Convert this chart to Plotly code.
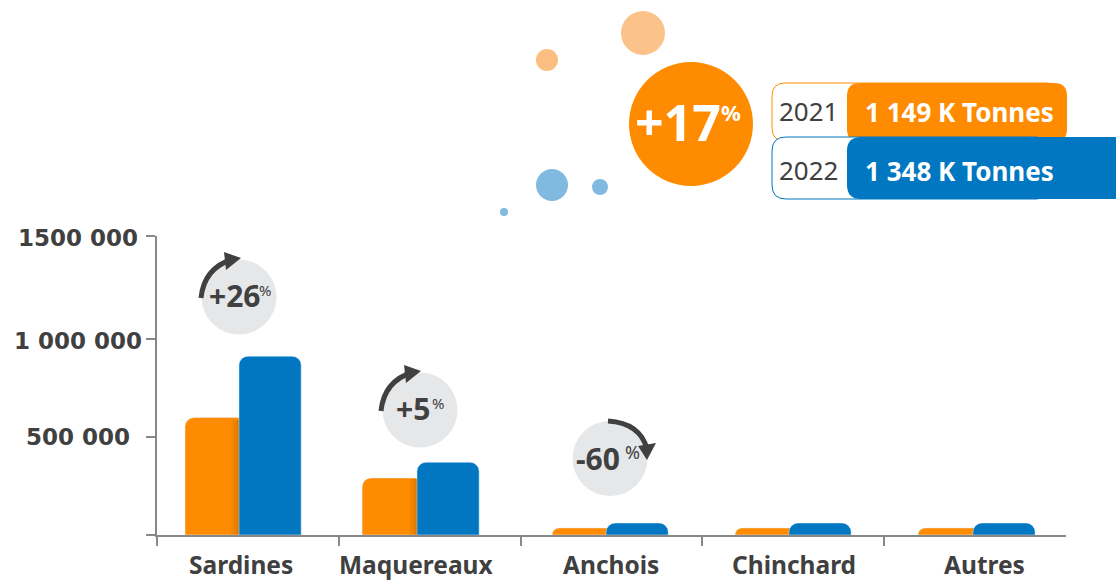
import plotly.graph_objects as go

categories = ["Sardines", "Maquereaux", "Anchois", "Chinchard", "Autres"]
values_2021 = [599000, 291000, 36000, 36000, 36000]
values_2022 = [912000, 371000, 61000, 61000, 61000]
y_ticks = [0, 500000, 1000000, 1525000]
y_labels = ["", "500 000", "1 000 000", "1500 000"]
changes = ["+26", "+5", "-60"]
years = ["2021", "2022"]
totals = ["1 149 K Tonnes", "1 348 K Tonnes"]
headline = "+17"

W, H = 1116, 583
ORANGE, BLUE, INK, AXIS, DISC = "#FF8C00", "#0077C0", "#404040", "#888888", "#E6E7E9"
FONT = "Noto Sans"
WIDE = "DejaVu Sans"

# Layout only: the reference places each group slightly off its category centre.
offset_2021 = [-0.346, -0.372, -0.327, -0.321, -0.314]
offset_2022 = [-0.049, -0.070, -0.030, -0.024, -0.012]
label_shift = [-7, -13, -1, 1, 9]


def px(x):
    return x / W


def py(y):
    return 1 - y / H


def circle(cx, cy, r, color):
    return dict(type="circle", xref="paper", yref="paper", x0=px(cx - r), x1=px(cx + r),
                y0=py(cy + r), y1=py(cy - r), fillcolor=color, line_width=0, layer="above")


def rrect(x0, y0, x1, y1, r, fill, line=None):
    X, Y = px, py
    p = (f"M {X(x0 + r)} {Y(y0)} L {X(x1 - r)} {Y(y0)} Q {X(x1)} {Y(y0)} {X(x1)} {Y(y0 + r)} "
         f"L {X(x1)} {Y(y1 - r)} Q {X(x1)} {Y(y1)} {X(x1 - r)} {Y(y1)} "
         f"L {X(x0 + r)} {Y(y1)} Q {X(x0)} {Y(y1)} {X(x0)} {Y(y1 - r)} "
         f"L {X(x0)} {Y(y0 + r)} Q {X(x0)} {Y(y0)} {X(x0 + r)} {Y(y0)} Z")
    return dict(type="path", xref="paper", yref="paper", path=p, fillcolor=fill,
                line=dict(color=line or fill, width=1 if line else 0), layer="above")


def curve(p0, c, p1, width=5):
    p = f"M {px(p0[0])} {py(p0[1])} Q {px(c[0])} {py(c[1])} {px(p1[0])} {py(p1[1])}"
    return dict(type="path", xref="paper", yref="paper", path=p,
                line=dict(color=INK, width=width), layer="above")


def tri(a, b, c):
    p = " ".join(f"{'M' if i == 0 else 'L'} {px(q[0])} {py(q[1])}" for i, q in enumerate((a, b, c))) + " Z"
    return dict(type="path", xref="paper", yref="paper", path=p, fillcolor=INK,
                line_width=0, layer="above")


def label(x, y, text, size, color=INK, bold=True, family=FONT):
    t = f"<b>{text}</b>" if bold else text
    return dict(x=px(x), y=py(y), xref="paper", yref="paper", text=t, showarrow=False,
                xanchor="center", yanchor="middle", font=dict(family=family, size=size, color=color))


fig = go.Figure()
fig.add_bar(x=categories, y=values_2021, name="2021", marker_color=ORANGE, width=0.342, offset=offset_2021)
fig.add_bar(x=categories, y=values_2022, name="2022", marker_color=BLUE, width=0.342, offset=offset_2022)

shapes = [
    circle(643, 33, 22, "#FBC38A"), circle(547, 60, 11, "#FBBE80"),
    circle(552, 185, 16, "#80BAE0"), circle(600, 187, 8, "#80BAE0"), circle(504, 212, 4, "#80BAE0"),
    circle(691, 124, 62, ORANGE),
    rrect(772, 83, 1060, 141, 13, "#FFFFFF", ORANGE),
    rrect(847, 83, 1067, 142, 13, ORANGE),
    rrect(772, 137, 1050, 199, 14, "#FFFFFF", BLUE),
    rrect(847, 137, 1140, 199, 14, BLUE),
    circle(239, 297, 37.5, DISC), circle(420, 410, 37.5, DISC), circle(610, 458.5, 37.5, DISC),
]
for dx, dy in ((0, 0), (180, 113)):
    shapes.append(curve((201 + dx, 298 + dy), (204 + dx, 268 + dy), (233 + dx, 259 + dy)))
    shapes.append(tri((241 + dx, 258 + dy), (224 + dx, 252 + dy), (226 + dx, 270 + dy)))
shapes.append(curve((608, 421), (640, 423), (647, 449)))
shapes.append(tri((647, 460), (638, 446), (656, 443)))
# soft shadow the blue bar throws on the orange one
for edge, val in ((239, values_2021[0]), (417, values_2021[1])):
    for w in (8, 6, 4, 2):
        shapes.append(dict(type="rect", xref="paper", yref="y", x0=px(edge - w), x1=px(edge),
                           y0=0, y1=val * 0.98, fillcolor="rgba(90,50,0,0.05)", line_width=0, layer="above"))

annotations = [
    label(678, 122, headline, 50, "#FFFFFF"),
    label(731, 112, "%", 22, "#FFFFFF"),
]
for yr, tot, y in zip(years, totals, (111, 170)):
    annotations.append(label(809, y, yr, 26, bold=False))
    annotations.append(label(959, y + 1, tot, 26, "#FFFFFF"))
for txt, (x, y), (sx, sy, ss) in zip(changes, ((234, 295), (413, 408), (598, 458)),
                                     ((265, 290, 15), (438, 403, 15), (632, 452, 18))):
    annotations.append(label(x, y, txt, 30))
    annotations.append(label(sx, sy, "%", ss, bold=False))
for t, y in zip(y_labels, (None, 437, 341, 238)):
    if t:
        annotations.append(label(78, y, t, 23, family=WIDE))
for cat, shift in zip(categories, label_shift):
    annotations.append(dict(x=cat, y=0, xref="x", yref="y", text=f"<b>{cat}</b>", showarrow=False,
                            xshift=shift, yshift=-29, xanchor="center", yanchor="middle",
                            font=dict(family=FONT, size=24.5, color=INK)))

fig.update_layout(
    width=W, height=H, margin=dict(l=0, r=0, t=0, b=0), autosize=False,
    barmode="overlay", barcornerradius=9, showlegend=False,
    paper_bgcolor="white", plot_bgcolor="white", shapes=shapes, annotations=annotations,
    font=dict(family=FONT, color=INK),
    xaxis=dict(domain=[px(157), px(1066)], type="category", range=[-0.5, 4.5], tickson="boundaries",
               ticks="outside", ticklen=9, tickwidth=2, tickcolor=AXIS, showline=True, linecolor=AXIS,
               linewidth=2, showgrid=False, showticklabels=False),
    yaxis=dict(domain=[py(535), py(236)], range=[0, 1525000], tickvals=y_ticks, showticklabels=False,
               ticks="outside", ticklen=9, tickwidth=2, tickcolor=AXIS, showline=True, linecolor=AXIS,
               linewidth=2, showgrid=False, zeroline=False),
)
fig.write_html("out.html", config=dict(displayModeBar=False), post_script="document.body.style.margin='0';")
